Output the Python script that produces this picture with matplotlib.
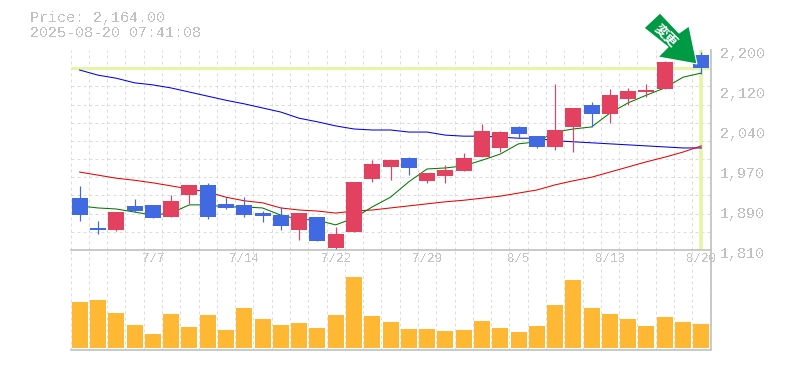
import matplotlib
matplotlib.use("Agg")
import matplotlib.pyplot as plt
from matplotlib.patches import Polygon
from matplotlib.transforms import ScaledTranslation

# ---- data -------------------------------------------------------------
opens  = [1911,1853,1849,1896,1898,1874,1917,1937,1900,1898,1882,1878,1849,1874,1814,1845,1948,1972,1989,1944,1954,1964,1991,2009,2050,2032,2011,2050,2093,2075,2104,2118,2124,2180,2190]
highs  = [1935,1867,1884,1909,1898,1917,1937,1941,1913,1913,1886,1894,1882,1874,1855,1943,1985,1985,1991,1960,1976,1999,2056,2042,2052,2032,2134,2087,2099,2124,2126,2134,2179,2194,2196]
lows   = [1867,1841,1847,1884,1872,1874,1900,1870,1890,1874,1865,1849,1829,1827,1809,1845,1943,1946,1956,1941,1941,1964,1991,2001,2028,2009,2005,2001,2050,2058,2093,2108,2124,2180,2153]
closes = [1878,1849,1884,1886,1872,1906,1937,1874,1892,1878,1876,1857,1882,1827,1841,1943,1978,1985,1970,1960,1966,1989,2042,2040,2036,2011,2044,2087,2075,2112,2120,2122,2177,2192,2164]
ma_short = [1896,1892,1890,1884,1878,1882,1898,1898,1894,1894,1892,1878,1870,1868,1859,1872,1894,1913,1943,1968,1970,1974,1985,1997,2017,2021,2040,2046,2050,2077,2097,2112,2126,2147,2155]
ma_mid   = [1962,1956,1950,1946,1941,1935,1929,1923,1913,1906,1902,1892,1888,1886,1882,1886,1888,1892,1896,1900,1904,1907,1911,1915,1921,1927,1937,1945,1952,1962,1972,1982,1991,2001,2013]
ma_long  = [2161,2151,2145,2136,2132,2126,2118,2110,2102,2095,2087,2079,2067,2060,2052,2046,2044,2044,2040,2040,2034,2032,2032,2030,2028,2028,2023,2021,2019,2017,2015,2013,2011,2009,2009]
volumes  = [46,48,35,23,14,34,21,33,18,40,29,23,25,20,33,71,32,26,19,19,17,18,27,20,16,22,43,68,40,34,29,22,31,26,24]
date_labels = ["7/7","7/14","7/22","7/29","8/5","8/13","8/20"]
date_index  = [4,9,14,19,24,29,34]
price_ticks = [2200,2122,2044,1966,1888,1810]
price_labels = ["2,200","2,120","2,040","1,970","1,890","1,810"]
last_price = 2164
title_lines = ["Price: 2,164.00", "2025-08-20 07:41:08"]

# ---- style ------------------------------------------------------------
W, H = 785, 370
plt.rcParams["font.family"] = ["Liberation Mono", "DejaVu Sans Mono"]
plt.rcParams["text.antialiased"] = False
GREY = "#c0c0c0"; GRID = "#dcdcdc"; YEL = "#e4f5a6"
RED = "#e2415f"; BLUE = "#4169e1"; VOL = "#ffb833"

fig = plt.figure(figsize=(W/100, H/100), dpi=100)
def axbox(l, t, r, b):
    return [l/W, 1-b/H, (r-l)/W, (b-t)/H]
ax = fig.add_axes(axbox(70.5, 50, 710.5, 250))
av = fig.add_axes(axbox(70.5, 250, 710.5, 350))

n = len(closes)
xs = list(range(n))
for a in (ax, av):
    a.set_xlim(-0.5, n-0.5)
    a.set_xticks([i-0.5 for i in range(n+1)], minor=True)
    a.set_axisbelow(True)
    a.grid(True, which="minor", axis="x", color=GRID, lw=0.72, ls=(0, (3, 3)))
    a.tick_params(which="both", length=0)
    for s in a.spines.values():
        s.set_color(GREY); s.set_linewidth(1.2)
    a.spines["left"].set_visible(False)

# price panel
ax.set_ylim(1810, 2200)
ax.set_yticks([1810 + k*390/11 for k in range(12)], minor=True)
ax.grid(True, which="minor", axis="y", color=GRID, lw=0.72, ls=(0, (3, 3)))
ax.set_xticks([])
ax.yaxis.tick_right()
ax.set_yticks(price_ticks, price_labels)
ax.tick_params(axis="y", which="major", length=0, pad=7, labelsize=10.8, labelcolor=GREY)
shift = ScaledTranslation(0, -2/100, fig.dpi_scale_trans)
for lbl in ax.get_yticklabels():
    lbl.set_transform(lbl.get_transform() + shift)
    lbl.set_clip_on(False)
ax.spines["bottom"].set_visible(False)
ax.spines["top"].set_visible(False)

ax.axhline(last_price, color=YEL, lw=2.2, zorder=1.5)
ax.axvline(xs[-1], color=YEL, lw=2.6, zorder=1.5)

ax.plot(xs, ma_long,  color="#0000ee", lw=0.75, zorder=2, antialiased=True)
ax.plot(xs, ma_mid,   color="#ee0000", lw=0.75, zorder=2, antialiased=True)
ax.plot(xs, ma_short, color="#007a00", lw=0.75, zorder=2, antialiased=True)

colors = [RED if c >= o else BLUE for o, c in zip(opens, closes)]
ax.vlines(xs, lows, highs, colors=colors, lw=0.85, zorder=3)
ax.bar(xs, [abs(c-o) for o, c in zip(opens, closes)],
       bottom=[min(o, c) for o, c in zip(opens, closes)],
       width=0.875, color=colors, zorder=3.1, linewidth=0)

# volume panel
av.set_ylim(-2, 98)
av.set_yticks([])
av.bar(xs, volumes, width=0.875, color=VOL, linewidth=0, zorder=2)
av.set_xticks(date_index, date_labels)
av.xaxis.tick_top()
av.tick_params(axis="x", which="major", length=0, pad=-11, labelsize=9, labelcolor="#c4c4c4")
for lbl in av.get_xticklabels():
    lbl.set_clip_on(False)
    lbl.set_zorder(6)

# header
fig.text(30/W, 1-18/H, title_lines[0], color=GREY, fontsize=10.8, va="center", ha="left")
fig.text(30/W, 1-33/H, title_lines[1], color=GREY, fontsize=10.8, va="center", ha="left")

# signal arrow
arrow_px = [(644,28),(660,13),(679,33),(689,26),(697,64),(658,57),(668,47)]
fig.add_artist(Polygon([(x/W, 1-y/H) for x, y in arrow_px], closed=True, transform=fig.transFigure,
                       facecolor="#009944", edgecolor="white", lw=0.8, zorder=5))
fig.text(666/W, 1-35.5/H, "変更", color="white", fontsize=9.5, rotation=-45, ha="center", va="center",
         rotation_mode="anchor", family=["Noto Sans CJK JP", "DejaVu Sans"], weight="bold",
         antialiased=True, zorder=6)

fig.savefig("out.png", dpi=100)
